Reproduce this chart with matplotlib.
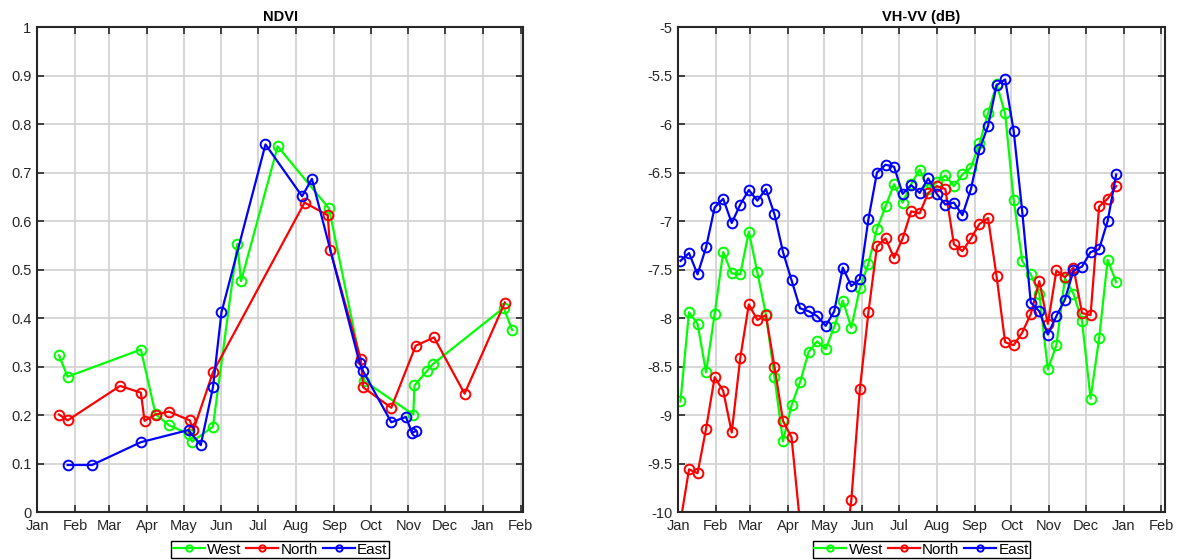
import matplotlib
matplotlib.use("Agg")
import matplotlib.pyplot as plt
import matplotlib.dates as mdates
import pandas as pd

plt.rcParams['font.family'] = ['Liberation Sans', 'DejaVu Sans']
plt.rcParams['axes.unicode_minus'] = False

# NDVI (fechas irregulares por serie)
ndvi_west_dates = ['2019-01-19', '2019-01-26', '2019-03-27', '2019-04-08', '2019-04-19',
                   '2019-05-05', '2019-05-08', '2019-05-25', '2019-06-14', '2019-06-17',
                   '2019-07-17', '2019-08-28', '2019-09-26', '2019-11-05', '2019-11-06',
                   '2019-11-16', '2019-11-21', '2020-01-18', '2020-01-25']
ndvi_west = [0.323, 0.279, 0.335, 0.202, 0.179, 0.161, 0.145, 0.176, 0.553, 0.476,
             0.754, 0.626, 0.270, 0.201, 0.261, 0.290, 0.305, 0.421, 0.375]

ndvi_north_dates = ['2019-01-19', '2019-01-26', '2019-03-10', '2019-03-27', '2019-03-30',
                    '2019-04-08', '2019-04-19', '2019-05-06', '2019-05-09', '2019-05-25',
                    '2019-08-08', '2019-08-27', '2019-08-29', '2019-09-23', '2019-09-25',
                    '2019-10-18', '2019-11-07', '2019-11-22', '2019-12-17', '2020-01-19']
ndvi_north = [0.201, 0.189, 0.260, 0.246, 0.188, 0.201, 0.207, 0.189, 0.169, 0.288,
              0.638, 0.612, 0.540, 0.315, 0.257, 0.215, 0.343, 0.360, 0.244, 0.432]

ndvi_east_dates = ['2019-01-26', '2019-02-15', '2019-03-27', '2019-05-05', '2019-05-15',
                   '2019-05-25', '2019-06-01', '2019-07-07', '2019-08-06', '2019-08-14',
                   '2019-09-22', '2019-09-25', '2019-10-18', '2019-10-30', '2019-11-04',
                   '2019-11-07']
ndvi_east = [0.097, 0.097, 0.144, 0.169, 0.138, 0.257, 0.412, 0.758, 0.651, 0.687,
             0.308, 0.290, 0.185, 0.196, 0.163, 0.167]

# VH-VV semanal
vh_dates = pd.date_range('2019-01-03', periods=52, freq='7D')
vh_west = [-8.86, -7.94, -8.06, -8.56, -7.96, -7.32, -7.54, -7.55, -7.11, -7.53,
           -7.96, -8.61, -9.27, -8.90, -8.66, -8.35, -8.24, -8.32, -8.09, -7.82,
           -8.10, -7.69, -7.44, -7.08, -6.85, -6.62, -6.81, -6.62, -6.47, -6.67,
           -6.60, -6.53, -6.64, -6.52, -6.45, -6.20, -5.89, -5.59, -5.89, -6.78,
           -7.41, -7.55, -7.75, -8.53, -8.28, -7.59, -7.75, -8.03, -8.83, -8.21,
           -7.40, -7.63]
vh_north = [-10.1, -9.56, -9.60, -9.14, -8.61, -8.75, -9.18, -8.41, -7.86, -8.02,
            -7.97, -8.50, -9.06, -9.23, -10.12, -10.5, -10.8, -11.0, -10.9, -10.6,
            -9.875, -8.73, -7.94, -7.26, -7.18, -7.38, -7.18, -6.90, -6.92, -6.71,
            -6.64, -6.67, -7.24, -7.31, -7.18, -7.03, -6.97, -7.57, -8.25, -8.28,
            -8.15, -7.96, -7.62, -8.06, -7.51, -7.58, -7.48, -7.95, -7.97, -6.85,
            -6.77, -6.64]
vh_east = [-7.41, -7.33, -7.55, -7.27, -6.86, -6.77, -7.02, -6.83, -6.68, -6.79,
           -6.67, -6.93, -7.32, -7.61, -7.90, -7.93, -7.98, -8.08, -7.93, -7.48,
           -7.67, -7.60, -6.98, -6.50, -6.42, -6.44, -6.72, -6.63, -6.71, -6.56,
           -6.72, -6.83, -6.81, -6.94, -6.67, -6.26, -6.02, -5.60, -5.54, -6.07,
           -6.90, -7.84, -7.93, -8.17, -7.98, -7.81, -7.51, -7.47, -7.32, -7.29,
           -7.00, -6.52]

labels = ['West', 'North', 'East']
colors = ['#00ff00', '#ff0000', '#0000ff']

fig = plt.figure(figsize=(11.8, 5.6), dpi=100)
ax1 = fig.add_axes([0.0314, 0.0857, 0.412, 0.866])
ax2 = fig.add_axes([0.5746, 0.0857, 0.4127, 0.866])

ndvi_sets = [(ndvi_west_dates, ndvi_west), (ndvi_north_dates, ndvi_north),
             (ndvi_east_dates, ndvi_east)]
for (d, v), lab, c in zip(ndvi_sets, labels, colors):
    ax1.plot(pd.to_datetime(d), v, '-o', color=c, mfc='none', ms=7, mew=1.4,
             lw=1.6, label=lab)

for v, lab, c in zip([vh_west, vh_north, vh_east], labels, colors):
    ax2.plot(vh_dates, v, '-o', color=c, mfc='none', ms=7, mew=1.4, lw=1.6,
             label=lab)

ax1.set_ylim(0, 1)
ax1.set_yticks([i / 10 for i in range(11)])
ax1.set_yticklabels(['0', '0.1', '0.2', '0.3', '0.4', '0.5', '0.6', '0.7', '0.8', '0.9', '1'])
ax1.set_xlim(pd.Timestamp('2019-01-01'), pd.Timestamp('2020-02-03'))
ax1.set_title('NDVI', fontsize=10.5, fontweight='bold', pad=4)

ax2.set_ylim(-10, -5)
ax2.set_yticks([-10 + 0.5 * i for i in range(11)])
ax2.set_yticklabels(['-10', '-9.5', '-9', '-8.5', '-8', '-7.5', '-7', '-6.5', '-6', '-5.5', '-5'])
ax2.set_xlim(pd.Timestamp('2019-01-01'), pd.Timestamp('2020-02-04'))
ax2.set_title('VH-VV (dB)', fontsize=10.5, fontweight='bold', pad=4)

for ax in (ax1, ax2):
    ax.xaxis.set_major_locator(mdates.MonthLocator())
    ax.xaxis.set_major_formatter(mdates.DateFormatter('%b'))
    ax.grid(True, color='#d4d4d4', lw=1.3)
    ax.set_axisbelow(True)
    ax.tick_params(direction='in', top=True, right=True, length=5, width=1.2,
                   labelsize=10.5, colors='#262626', pad=4)
    ax.tick_params(axis='x', pad=5)
    for s in ax.spines.values():
        s.set_linewidth(1.5)
        s.set_color('#262626')
    ax.legend(loc='upper center', bbox_to_anchor=(0.5, -0.06), ncol=3,
              fontsize=11, frameon=True, fancybox=False, edgecolor='black',
              framealpha=1, borderpad=0.1, handlelength=2.1, handletextpad=0.15,
              columnspacing=0.3, borderaxespad=0, markerscale=0.65)

fig.savefig('out.png', dpi=100)
